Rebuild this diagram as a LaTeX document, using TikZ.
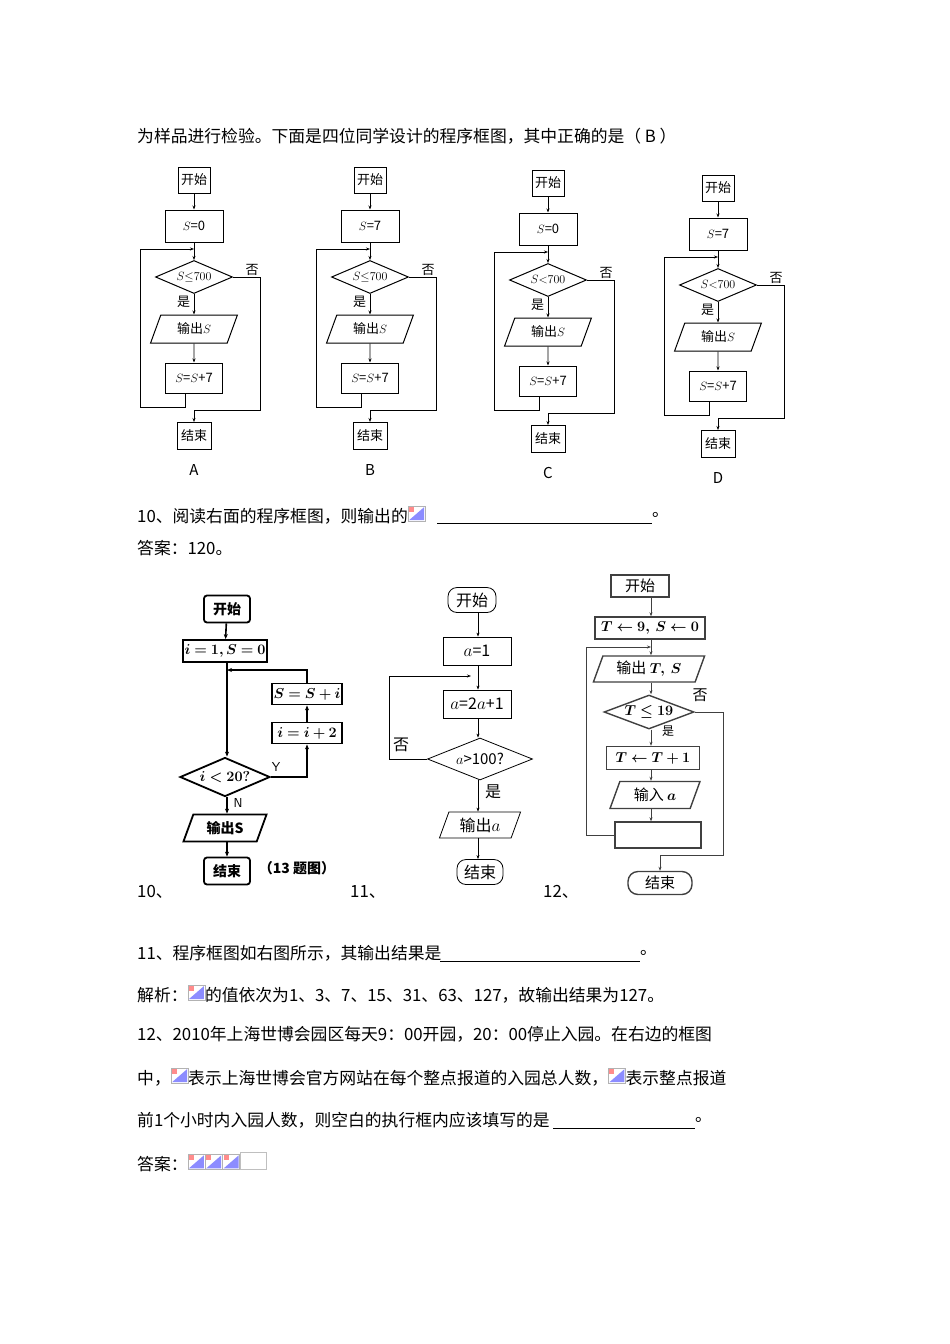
\documentclass[tikz,border=0pt]{standalone}
\usepackage{amsmath,amssymb}
\usepackage{bm}
\usepackage{fontspec}
\setmainfont{Noto Sans CJK SC}
\usetikzlibrary{shapes.geometric,arrows.meta}
\newcommand\fs[1]{\fontsize{#1}{#1}\selectfont}
\newcommand\imgicon{\tikz[baseline=-1pt]{\draw[gray!60,fill=white] (0,0) rectangle (17pt,15pt);\fill[blue!45] (1pt,1pt)--(16pt,14pt)--(16pt,1pt)--cycle;\fill[red!45] (1pt,14pt) rectangle (6pt,9pt);}}
\tikzset{
 tb/.style={draw,line width=1pt,inner sep=1pt,font=\fs{13}},
 dm/.style={draw,line width=1pt,diamond,aspect=2.3,inner sep=0pt,font=\fs{13}},
 pg/.style={draw,line width=1pt,trapezium,trapezium left angle=70,trapezium right angle=110,inner sep=2pt,font=\fs{13}},
 ar/.style={line width=0.9pt,-{Stealth[length=4pt,width=3pt]}},
 ln/.style={line width=0.9pt},
 body/.style={anchor=west,inner sep=0pt,font=\fs{16.8}},
}
\newcommand\topchart[7]{%
\begin{scope}[yshift=-#3pt]
\node[tb,minimum width=32,minimum height=26] (#1s) at (#2,180) {开始};
\node[tb,minimum width=58,minimum height=32] (#1i) at (#2,226) {#4};
\node[dm,minimum width=77,minimum height=33] (#1d) at (#2,277) {#5};
\node[pg,minimum width=66,minimum height=28] (#1o) at (#2,329) {输出$S$};
\node[tb,minimum width=57,minimum height=30] (#1p) at (#2,378) {$S$=$S$+7};
\node[tb,minimum width=34,minimum height=27] (#1e) at (#2,436) {结束};
\node[font=\fs{15}\rmfamily] (#1l) at (#2,470) {#6};
\node[font=\fs{13}] (#1n) at ({#2+58},270) {否};
\coordinate (#1j) at (#2,249);
\draw[ar] (#1s) -- (#1i);
\draw[ar] (#1i) -- (#1d);
\draw[ar] (#1d) -- node[left,font=\fs{13},pos=0.4]{是} (#1o);
\draw[ar] (#1o) -- (#1p);
\draw[ar] ([xshift=-9pt]#1p.south) |- ({#2-54},407) |- (#1j);
\draw[ar] (#1d.east) -| ({#2+#7},410) -| (#1e.north);
\end{scope}}
\begin{document}
\begin{tikzpicture}[x=1pt,y=-1pt]
\useasboundingbox (0,0) rectangle (950,1344);
\fill[white] (0,0) rectangle (950,1344);
\node[body] (t1) at (137,136) {为样品进行检验。下面是四位同学设计的程序框图，其中正确的是（ B ）};
\topchart{A}{194}{0}{$S$=0}{$S{\le}700$}{A}{66}
\topchart{B}{370}{0}{$S$=7}{$S{\le}700$}{B}{66}
\topchart{C}{548}{3}{$S$=0}{$S{<}700$}{C}{66}
\topchart{D}{718}{8}{$S$=7}{$S{<}700$}{D}{66}
\node[body] (t2) at (137,515) {10、阅读右面的程序框图，则输出的\imgicon};
\draw (437,523) -- (652,523);
\node[body] (t2b) at (652,515) {。};
\node[body] (t3) at (137,548) {答案：120。};
% chart 10
\begin{scope}[ar/.style={line width=1.6pt,-{Stealth[length=5pt,width=4pt]}},tb/.style={draw,line width=1.8pt,inner sep=1pt,font=\fs{14}\bfseries}]
\node[tb,rounded corners=3pt,minimum width=46,minimum height=27] (Ks) at (227,609) {开始};
\node[tb,minimum width=84,minimum height=22] (Ki) at (225,651) {$\bm{i=1,S=0}$};
\node[tb,minimum width=70,minimum height=21] (Ka) at (307,694) {$\bm{S=S+i}$};
\node[tb,minimum width=70,minimum height=21] (Kb) at (307,733) {$\bm{i=i+2}$};
\node[dm,line width=1.8pt,minimum width=90,minimum height=39,font=\fs{14}] (Kd) at (225,777) {$\bm{i<20?}$};
\node[pg,line width=1.8pt,minimum width=80,minimum height=27,font=\fs{14}\bfseries] (Ko) at (225,828) {输出S};
\node[tb,rounded corners=3pt,minimum width=46,minimum height=27] (Ke) at (227,871) {结束};
\node[font=\fs{14}\bfseries] (Kc) at (297,868) {（13 题图）};
\node[font=\fs{13}\sffamily] (KY) at (276,767) {Y};
\node[font=\fs{13}\sffamily] (KN) at (238,803) {N};
\coordinate (Kj) at (227,670);
\draw[ar] (Ks) -- (Ki);
\draw[ar] (Ki.south -| Kj) -- (Kd.north -| Kj);
\draw[ar] (Kd.east) -| (Kb.south);
\draw[ar] (Kb) -- (Ka);
\draw[ar] (Ka.north) |- (Kj);
\draw[ar] (Kd.south -| Kj) -- (Ko.north -| Kj);
\draw[ar] (Ko.south -| Kj) -- (Ke.north);
\end{scope}
% chart 11
\begin{scope}[tb/.style={draw,line width=0.8pt,inner sep=1pt,font=\fs{16}}]
\node[tb,rounded corners=9pt,minimum width=48,minimum height=25] (Ls) at (472,600) {开始};
\node[tb,minimum width=68,minimum height=28] (La) at (477,651) {$a$=1};
\node[tb,minimum width=68,minimum height=28] (Lb) at (477,704) {$a$=2$a$+1};
\node[dm,line width=0.8pt,minimum width=105,minimum height=42,font=\fs{15}] (Ld) at (480,759) {$a$>100?};
\node[pg,line width=0.8pt,minimum width=62,minimum height=26,font=\fs{16}] (Lo) at (480,825) {输出$a$};
\node[tb,rounded corners=9pt,minimum width=46,minimum height=25] (Le) at (480,872) {结束};
\node[font=\fs{16}] (Ln) at (401,745) {否};
\node[font=\fs{16}] (Ly) at (493,792) {是};
\coordinate (Lj) at (478,676);
\draw[ar] (Ls.south -| Lj) -- (La.north -| Lj);
\draw[ln] (La.south -| Lj) -- (Lj);
\draw[ar] (Lj) -- (Lb.north -| Lj);
\draw[ar] (Lb.south -| Lj) -- (Ld.north -| Lj);
\draw[ar] (Ld.west) -| (389,676) -- ([xshift=-7pt]Lj);
\draw[ar] (Ld.south -| Lj) -- (Lo.north -| Lj);
\draw[ar] (Lo.south -| Lj) -- (Le.north -| Lj);
\end{scope}
% chart 12
\begin{scope}[tb/.style={draw,line width=1.4pt,inner sep=1pt,font=\fs{15}},draw=black!75]
\node[tb,minimum width=58,minimum height=22] (Ms) at (640,586) {开始};
\node[tb,minimum width=110,minimum height=22,font=\fs{14}\bfseries] (Mi) at (650,628) {$\bm{T\leftarrow 9,\ S\leftarrow 0}$};
\node[pg,line width=1.4pt,minimum width=98,minimum height=26,font=\fs{15}] (Mo) at (649,669) {输出 $\bm{T,\ S}$};
\node[dm,line width=1.4pt,minimum width=90,minimum height=31,font=\fs{14}] (Md) at (649,712) {$\bm{T\le 19}$};
\node[tb,minimum width=93,minimum height=23,font=\fs{14}] (Mt) at (653,758) {$\bm{T\leftarrow T+1}$};
\node[pg,line width=1.4pt,minimum width=90,minimum height=25,font=\fs{15}] (Ma) at (655,795) {输入 $\bm{a}$};
\node[tb,minimum width=86,minimum height=26] (Mb) at (658,835) {};
\node[tb,rounded corners=10pt,minimum width=64,minimum height=23] (Me) at (660,883) {结束};
\node[font=\fs{15}] (Mn) at (700,695) {否};
\node[font=\fs{12}] (My) at (668,731) {是};
\coordinate (Mj) at (651,647);
\draw[ar] (Ms.south -| Mj) -- (Mi.north -| Mj);
\draw[ar] (Mi.south -| Mj) -- (Mo.north -| Mj);
\draw[ar] (Mo.south -| Mj) -- (Md.north -| Mj);
\draw[ar] (Md.south -| Mj) -- (Mt.north -| Mj);
\draw[ar] (Mt.south -| Mj) -- (Ma.north -| Mj);
\draw[ar] (Ma.south -| Mj) -- (Mb.north -| Mj);
\draw[ar] (Mb.west) -| (586,647) -- (Mj);
\draw[ar] (Md.east) -| (723,855) -| (Me.north);
\end{scope}
\node[body] (n10) at (137,892) {10、};
\node[body] (n11) at (350,892) {11、};
\node[body] (n12) at (543,892) {12、};
\node[body] (t4) at (137,953) {11、程序框图如右图所示，其输出结果是};
\draw (440,961) -- (640,961);
\node[body] (t4b) at (640,953) {。};
\node[body] (t5) at (137,994) {解析：\imgicon 的值依次为1、3、7、15、31、63、127，故输出结果为127。};
\node[body] (t6) at (137,1034) {12、2010年上海世博会园区每天9：00开园，20：00停止入园。在右边的框图};
\node[body] (t7) at (137,1077) {中，\imgicon 表示上海世博会官方网站在每个整点报道的入园总人数，\imgicon 表示整点报道};
\node[body] (t8) at (137,1120) {前1个小时内入园人数，则空白的执行框内应该填写的是};
\draw (553,1128) -- (695,1128);
\node[body] (t8b) at (695,1120) {。};
\node[body] (t9) at (137,1162) {答案：\imgicon\imgicon\imgicon\tikz[baseline=-1pt]\draw[gray!50](0,0) rectangle (26pt,17pt);};
\end{tikzpicture}
\end{document}
